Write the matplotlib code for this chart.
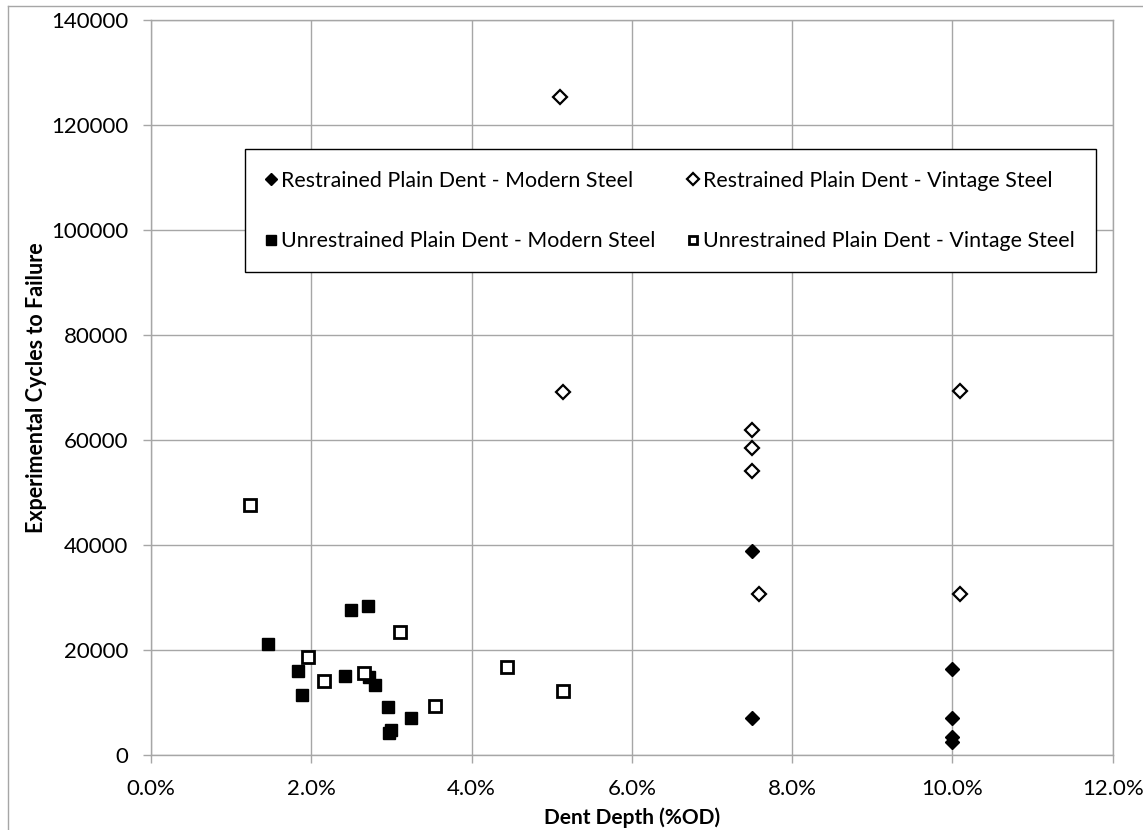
import matplotlib
matplotlib.use("Agg")
import matplotlib.pyplot as plt
from matplotlib.lines import Line2D
from matplotlib.ticker import FuncFormatter, MultipleLocator

plt.rcParams['font.family'] = ['Lato', 'DejaVu Sans']

# dent depth in %OD, cycles to failure
rm_depth = [7.5, 7.5, 10.0, 10.0, 10.0, 10.0]
rm_cycles = [38800, 7050, 16330, 6990, 3490, 2540]

rv_depth = [5.10, 5.14, 7.5, 7.5, 7.5, 7.59, 10.09, 10.10]
rv_cycles = [125500, 69100, 61900, 58500, 54100, 30700, 69400, 30700]

um_depth = [1.46, 1.83, 1.88, 2.50, 2.71, 2.42, 2.72, 2.80, 2.96, 3.25, 2.97, 2.99]
um_cycles = [21150, 16000, 11430, 27620, 28320, 15110, 14950, 13340, 9140, 6990, 4150, 4800]

uv_depth = [1.23, 1.96, 2.16, 2.66, 3.11, 3.54, 4.44, 5.14]
uv_cycles = [47700, 18700, 14150, 15560, 23490, 9270, 16700, 12190]

labels = ["Restrained Plain Dent - Modern Steel",
          "Unrestrained Plain Dent - Modern Steel",
          "Restrained Plain Dent - Vintage Steel",
          "Unrestrained Plain Dent - Vintage Steel"]

W, H = 1143, 830
fig = plt.figure(figsize=(W / 100, H / 100), dpi=100)
ax = fig.add_axes([151 / W, 1 - 755 / H, (1112.7 - 151) / W, (755 - 20.5) / H])

grid_c = '#a6a6a6'
h1, = ax.plot(rm_depth, rm_cycles, 'D', ms=7.6, color='black', mec='black', mew=1.0)
h2, = ax.plot(um_depth, um_cycles, 's', ms=8.5, color='black', mec='black', mew=1.0)
h3, = ax.plot(rv_depth, rv_cycles, 'D', ms=7.2, mfc='white', mec='black', mew=1.6)
h4, = ax.plot(uv_depth, uv_cycles, 's', ms=8.0, mfc='white', mec='black', mew=2.0)

ax.set_xlim(0, 12)
ax.set_ylim(0, 140000)
ax.xaxis.set_major_locator(MultipleLocator(2))
ax.yaxis.set_major_locator(MultipleLocator(20000))
ax.xaxis.set_major_formatter(FuncFormatter(lambda v, p: '%.1f%%' % v))
ax.yaxis.set_major_formatter(FuncFormatter(lambda v, p: '%d' % v))
ax.grid(True, color=grid_c, lw=1.0)
ax.set_axisbelow(True)
for s in ax.spines.values():
    s.set_color(grid_c)
    s.set_linewidth(1.0)
ax.tick_params(direction='out', length=6, width=1.0, color=grid_c,
               labelsize=16, labelcolor='black')
ax.tick_params(axis='y', pad=10.5)
ax.tick_params(axis='x', pad=11)

ax.set_xlabel('Dent Depth (%OD)', fontsize=15, fontweight='bold', labelpad=6)
ax.set_ylabel('Experimental Cycles to Failure', fontsize=15.5, fontweight='bold', labelpad=3)

leg = ax.legend([h1, h2, h3, h4], labels, ncol=2, loc='upper left',
                bbox_to_anchor=(0.0974, 0.8247), fontsize=15.4,
                frameon=True, fancybox=False, edgecolor='black',
                framealpha=1, handlelength=0.44, handletextpad=0.28,
                borderpad=1.0, labelspacing=1.89, columnspacing=1.5,
                borderaxespad=0, numpoints=1)
leg.get_frame().set_linewidth(1.0)
# legend markers are a little smaller than the plotted ones
for lh in leg.legend_handles:
    lh.set_markersize(lh.get_markersize() * 0.8)

# chart area border (cut off at right and bottom)
fig.add_artist(Line2D([8 / W, 8 / W], [1 - 6 / H, 0], color=grid_c, lw=1.0))
fig.add_artist(Line2D([8 / W, 1], [1 - 6 / H, 1 - 6 / H], color=grid_c, lw=1.0))

fig.savefig('out.png', dpi=100)
